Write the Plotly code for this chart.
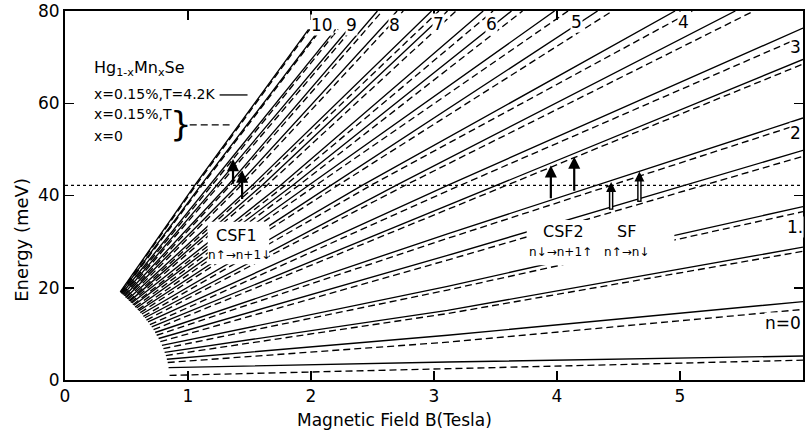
import plotly.graph_objects as go

# ---------------- data ----------------
# Landau-level lines (solid: x=0.15%, T=4.2K), points (B [T], E [meV])
solid_names = ["0a", "0b", "1a", "1b", "2a", "2b", "3a", "3b", "4a", "4b", "5a",
               "5b", "6a", "6b", "7a", "7b", "8a", "8b", "9a", "9b", "10a", "10b"]
solid_B = [
    [0.842, 3.11, 6.0], [0.828, 3.11, 6.0], [0.81, 3.11, 6.0], [0.788, 3.11, 6.0],
    [0.761, 3.11, 6.0], [0.733, 3.11, 6.0], [0.705, 3.11, 6.0], [0.675, 3.11, 6.0],
    [0.65, 2.707, 5.45], [0.625, 2.43, 4.96], [0.602, 2.17, 4.33], [0.582, 1.99, 3.98],
    [0.561, 1.86, 3.63], [0.543, 1.76, 3.40], [0.528, 1.61, 3.11], [0.513, 1.53, 2.98],
    [0.498, 1.41, 2.70], [0.486, 1.33, 2.54], [0.474, 1.24, 2.30], [0.463, 1.18, 2.20],
    [0.455, 1.11, 2.07], [0.449, 1.06, 1.98],
]
solid_E = [
    [2.7, 3.9, 5.2], [4.5, 9.7, 17.0], [6.0, 15.1, 28.8], [7.5, 20.3, 37.6],
    [9.0, 27.0, 49.8], [10.3, 31.7, 56.8], [11.5, 37.8, 69.5], [12.6, 42.2, 76.3],
    [13.5, 42.4, 80], [14.3, 42.4, 80], [15.0, 42.4, 80], [15.6, 42.4, 80],
    [16.2, 42.4, 80], [16.7, 42.4, 80], [17.1, 42.4, 80], [17.5, 42.4, 80],
    [17.9, 42.4, 80], [18.2, 42.4, 80], [18.5, 42.4, 76], [18.75, 42.4, 76],
    [18.95, 42.4, 76], [19.1, 42.4, 76],
]
# dashed: x=0.15%, T high  /  x=0
dash_B = [
    [0.85, 3.11, 6.0], [0.835, 3.11, 6.0], [0.82, 3.11, 6.0], [0.80, 3.11, 6.0],
    [0.775, 3.11, 6.0], [0.745, 3.11, 6.0], [0.72, 3.11, 6.0], [0.69, 3.11, 6.0],
    [0.662, 2.78, 5.6], [0.637, 2.50, 5.10], [0.612, 2.23, 4.45], [0.592, 2.05, 4.09],
    [0.57, 1.91, 3.72], [0.552, 1.80, 3.48], [0.535, 1.65, 3.18], [0.52, 1.56, 3.04],
    [0.505, 1.44, 2.75], [0.492, 1.35, 2.58], [0.48, 1.26, 2.33], [0.468, 1.20, 2.22],
    [0.458, 1.12, 2.08], [0.452, 1.07, 1.99],
]
dash_E = [
    [1.0, 2.5, 4.3], [3.8, 8.2, 15.3], [5.3, 14.4, 27.9], [6.8, 19.5, 36.5],
    [8.3, 26.0, 48.5], [9.7, 30.7, 55.7], [10.9, 36.9, 68.5], [12.0, 41.0, 74.5],
    [13.0, 42.4, 80], [13.8, 42.4, 80], [14.6, 42.4, 80], [15.2, 42.4, 80],
    [15.8, 42.4, 80], [16.3, 42.4, 80], [16.8, 42.4, 80], [17.2, 42.4, 80],
    [17.6, 42.4, 80], [17.9, 42.4, 80], [18.3, 42.4, 76], [18.55, 42.4, 76],
    [18.8, 42.4, 76], [19.0, 42.4, 76],
]
fermi_E = 42.2

# transition arrows: B, E from, E to
csf1_B = [1.366, 1.44]
csf1_E0 = [42.2, 38.9]
csf1_E1 = [47.9, 45.4]
csf2_B = [3.95, 4.14]
csf2_E0 = [39.1, 40.7]
csf2_E1 = [46.5, 48.4]
sf_B = [4.44, 4.67]
sf_E0 = [36.9, 38.6]
sf_E1 = [42.9, 45.2]

x_ticks = [0, 1, 2, 3, 4, 5]
y_ticks = [0, 20, 40, 60, 80]
level_labels = ["10", "9", "8", "7", "6", "5", "4", "3", "2", "1.", "n=0"]

FONT = "DejaVu Sans"

fig = go.Figure()

# Fermi level (dotted)
fig.add_trace(go.Scatter(x=[0, 6], y=[fermi_E, fermi_E], mode="lines",
                         line=dict(color="black", width=1.2, dash="3px,3px"),
                         hoverinfo="skip"))

for bx, ey in zip(dash_B, dash_E):
    fig.add_trace(go.Scatter(x=bx, y=ey, mode="lines",
                             line=dict(color="black", width=1.35, dash="7px,4px"),
                             hoverinfo="skip"))
for bx, ey in zip(solid_B, solid_E):
    fig.add_trace(go.Scatter(x=bx, y=ey, mode="lines",
                             line=dict(color="black", width=1.35),
                             hoverinfo="skip"))

# hollow SF arrow shafts
for b, e0, e1 in zip(sf_B, sf_E0, sf_E1):
    fig.add_trace(go.Scatter(x=[b, b], y=[e0, e1 - 1.0], mode="lines",
                             line=dict(color="black", width=4.5), hoverinfo="skip"))
    fig.add_trace(go.Scatter(x=[b, b], y=[e0 + 0.3, e1 - 1.0], mode="lines",
                             line=dict(color="white", width=1.6), hoverinfo="skip"))

annotations = []
# filled arrows (CSF1, CSF2)
for bl, e0l, e1l in ((csf1_B, csf1_E0, csf1_E1), (csf2_B, csf2_E0, csf2_E1)):
    for b, e0, e1 in zip(bl, e0l, e1l):
        annotations.append(dict(x=b, y=e1, ax=b, ay=e0, xref="x", yref="y",
                                axref="x", ayref="y", showarrow=True, text="",
                                arrowhead=2, arrowsize=1.1, arrowwidth=2.2,
                                arrowcolor="black"))
# SF arrow heads
for b, e1 in zip(sf_B, sf_E1):
    annotations.append(dict(x=b, y=e1, ax=b, ay=e1 - 1.5, xref="x", yref="y",
                            axref="x", ayref="y", showarrow=True, text="",
                            arrowhead=2, arrowsize=0.8, arrowwidth=2.5,
                            arrowcolor="black"))

# white masks behind transition labels
shapes = [
    dict(type="rect", xref="x", yref="y", x0=1.16, x1=1.66, y0=25.1, y1=34.3,
         fillcolor="white", line=dict(width=0), layer="above"),
    dict(type="rect", xref="x", yref="y", x0=3.754, x1=4.954, y0=24.9, y1=34.7,
         fillcolor="white", line=dict(width=0), layer="above"),
    # legend line samples
    dict(type="line", xref="x", yref="y", x0=1.257, x1=1.484, y0=61.8, y1=61.8,
         line=dict(color="black", width=1.3), layer="above"),
    dict(type="line", xref="x", yref="y", x0=1.014, x1=1.338, y0=55.3, y1=55.3,
         line=dict(color="black", width=1.3, dash="7px,4px"), layer="above"),
]


def txt(x, y, s, size, xanchor="center", bg=None):
    d = dict(x=x, y=y, xref="x", yref="y", text=s, showarrow=False,
             xanchor=xanchor, yanchor="middle",
             font=dict(family=FONT, size=size, color="black"))
    if bg:
        d.update(bgcolor=bg, borderpad=0)
    return d


annotations += [
    txt(1.395, 31.4, "CSF1", 16),
    txt(1.419, 27.1, "n↑→n+1↓", 12),
    txt(4.054, 32.1, "CSF2", 16),
    txt(4.03, 27.75, "n↓→n+1↑", 12),
    txt(4.565, 32.1, "SF", 16),
    txt(4.565, 27.75, "n↑→n↓", 12),
    txt(0.219, 67.6, "Hg<sub>1-x</sub>Mn<sub>x</sub>Se", 16, "left"),
    txt(0.219, 62.0, "x=0.15%,T=4.2K", 14, "left"),
    txt(0.219, 57.7, "x=0.15%,T", 14, "left"),
    txt(0.219, 52.9, "x=0", 14, "left"),
    txt(0.94, 55.5, "}", 34),
]

label_B = [2.092, 2.327, 2.676, 3.04, 3.47, 4.16, 5.027, 5.935, 5.943, 5.935, 5.995]
label_E = [77.0, 77.0, 77.0, 77.2, 77.2, 77.6, 77.6, 72.2, 53.5, 33.2, 12.4]
for s, b, e in zip(level_labels, label_B, label_E):
    annotations.append(txt(b, e, s, 17, xanchor="right" if s == "n=0" else "center",
                           bg="white"))

# axis titles
annotations.append(dict(x=0.447, y=-0.108, xref="paper", yref="paper",
                        xanchor="center", yanchor="middle",
                        text="Magnetic Field B(Tesla)", showarrow=False,
                        font=dict(family=FONT, size=17, color="black")))
annotations.append(dict(x=-0.0588, y=0.379, xref="paper", yref="paper",
                        xanchor="center", yanchor="middle",
                        text="Energy (meV)", textangle=-90, showarrow=False,
                        font=dict(family=FONT, size=18, color="black")))

axis_common = dict(showgrid=False, zeroline=False, showline=True, linecolor="black",
                   linewidth=2, mirror="ticks", ticks="inside", ticklen=9,
                   tickwidth=1.5, tickcolor="black",
                   tickfont=dict(family=FONT, size=17, color="black"))

fig.update_layout(
    width=805, height=437,
    margin=dict(l=65, r=0, t=11, b=57),
    paper_bgcolor="white", plot_bgcolor="white",
    showlegend=False,
    font=dict(family=FONT, color="black"),
    xaxis=dict(range=[0, 6], tickvals=x_ticks, **axis_common),
    yaxis=dict(range=[0, 80], tickvals=y_ticks, **axis_common),
    shapes=shapes,
    annotations=annotations,
)

fig.write_html("out.html",
               config={"displayModeBar": False, "staticPlot": True},
               post_script="document.body.style.margin='0';"
                           "document.body.style.overflow='hidden';")
